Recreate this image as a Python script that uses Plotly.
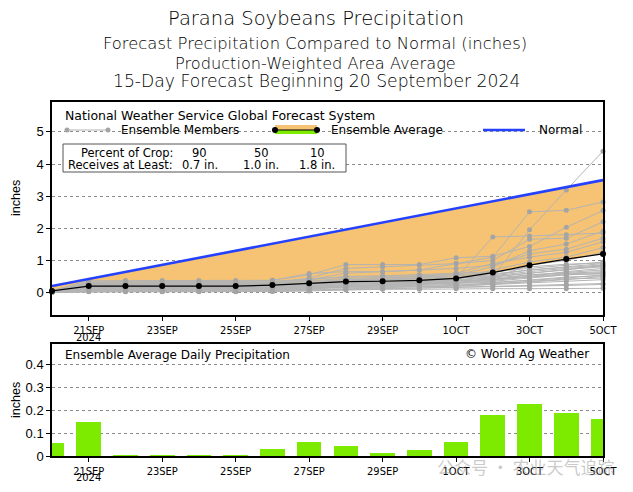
import plotly.graph_objects as go

# ---------------- data ----------------
dates = ["2024-09-20", "2024-09-21", "2024-09-22", "2024-09-23", "2024-09-24",
         "2024-09-25", "2024-09-26", "2024-09-27", "2024-09-28", "2024-09-29",
         "2024-09-30", "2024-10-01", "2024-10-02", "2024-10-03", "2024-10-04",
         "2024-10-05"]
ens_avg = [0.05, 0.20, 0.20, 0.20, 0.20, 0.20, 0.23, 0.29, 0.34, 0.35, 0.38,
           0.44, 0.62, 0.85, 1.04, 1.20]
normal = [0.20, 0.42, 0.64, 0.86, 1.08, 1.30, 1.52, 1.74, 1.96, 2.18, 2.40,
          2.62, 2.84, 3.06, 3.28, 3.50]
daily = [0.055, 0.15, 0.003, 0.001, 0.001, 0.001, 0.032, 0.06, 0.044, 0.013,
         0.026, 0.06, 0.18, 0.227, 0.188, 0.163]
members = [
    [0.02, 0.10, 0.10, 0.10, 0.10, 0.10, 0.12, 0.20, 0.30, 0.30, 0.32, 0.45, 1.73, 1.76, 1.80, 1.85],
    [0.03, 0.20, 0.20, 0.20, 0.20, 0.20, 0.25, 0.40, 0.60, 0.65, 0.70, 0.90, 1.10, 2.51, 2.56, 2.82],
    [0.01, 0.05, 0.05, 0.05, 0.05, 0.05, 0.06, 0.10, 0.20, 0.25, 0.30, 0.35, 0.50, 1.95, 3.19, 4.40],
    [0.05, 0.30, 0.35, 0.35, 0.35, 0.35, 0.38, 0.55, 0.87, 0.87, 0.87, 1.08, 1.13, 1.43, 2.03, 2.55],
    [0.04, 0.25, 0.25, 0.25, 0.25, 0.25, 0.30, 0.45, 0.75, 0.80, 0.85, 0.90, 1.00, 1.66, 1.69, 2.20],
    [0.02, 0.15, 0.15, 0.15, 0.15, 0.15, 0.18, 0.25, 0.35, 0.40, 0.45, 0.55, 0.80, 1.30, 1.51, 1.91],
    [0.06, 0.37, 0.37, 0.37, 0.37, 0.37, 0.38, 0.59, 0.65, 0.65, 0.70, 0.75, 0.85, 1.20, 1.35, 1.69],
    [0.03, 0.20, 0.20, 0.20, 0.20, 0.20, 0.22, 0.30, 0.40, 0.45, 0.50, 0.60, 0.90, 1.10, 1.25, 1.58],
    [0.02, 0.12, 0.12, 0.12, 0.12, 0.12, 0.15, 0.20, 0.25, 0.30, 0.35, 0.40, 0.70, 0.95, 1.10, 1.40],
    [0.01, 0.08, 0.08, 0.08, 0.08, 0.08, 0.10, 0.15, 0.20, 0.22, 0.25, 0.30, 0.45, 0.85, 1.00, 1.25],
    [0.00, 0.02, 0.02, 0.02, 0.02, 0.02, 0.03, 0.05, 0.08, 0.10, 0.10, 0.12, 0.12, 0.12, 0.12, 0.13],
    [0.01, 0.05, 0.05, 0.05, 0.05, 0.05, 0.06, 0.08, 0.12, 0.15, 0.18, 0.20, 0.25, 0.30, 0.35, 0.40],
    [0.02, 0.10, 0.10, 0.10, 0.10, 0.10, 0.12, 0.18, 0.22, 0.25, 0.28, 0.30, 0.35, 0.45, 0.55, 0.60],
    [0.03, 0.18, 0.18, 0.18, 0.18, 0.18, 0.20, 0.25, 0.30, 0.32, 0.35, 0.38, 0.40, 0.50, 0.65, 0.75],
    [0.04, 0.25, 0.25, 0.25, 0.25, 0.25, 0.27, 0.30, 0.35, 0.38, 0.40, 0.45, 0.50, 0.60, 0.70, 0.85],
    [0.02, 0.15, 0.15, 0.15, 0.15, 0.15, 0.16, 0.20, 0.25, 0.28, 0.30, 0.32, 0.40, 0.55, 0.60, 0.65],
    [0.01, 0.06, 0.06, 0.06, 0.06, 0.06, 0.08, 0.12, 0.18, 0.20, 0.22, 0.25, 0.28, 0.33, 0.40, 0.50],
    [0.05, 0.28, 0.28, 0.28, 0.28, 0.28, 0.30, 0.35, 0.40, 0.42, 0.45, 0.48, 0.55, 0.70, 0.80, 0.90],
    [0.00, 0.03, 0.03, 0.03, 0.03, 0.03, 0.04, 0.06, 0.10, 0.12, 0.14, 0.16, 0.20, 0.22, 0.25, 0.28],
    [0.03, 0.22, 0.22, 0.22, 0.22, 0.22, 0.24, 0.28, 0.32, 0.35, 0.38, 0.40, 0.45, 0.55, 0.62, 0.70],
    [0.02, 0.12, 0.12, 0.12, 0.12, 0.12, 0.14, 0.16, 0.20, 0.22, 0.25, 0.28, 0.32, 0.38, 0.45, 0.55],
    [0.01, 0.08, 0.08, 0.08, 0.08, 0.08, 0.10, 0.14, 0.16, 0.18, 0.20, 0.22, 0.30, 0.40, 0.48, 0.52],
    [0.04, 0.30, 0.30, 0.30, 0.30, 0.30, 0.32, 0.40, 0.50, 0.52, 0.55, 0.60, 0.65, 0.75, 0.85, 0.95],
    [0.02, 0.16, 0.16, 0.16, 0.16, 0.16, 0.18, 0.22, 0.28, 0.30, 0.32, 0.35, 0.42, 0.50, 0.58, 0.62],
    [0.00, 0.04, 0.04, 0.04, 0.04, 0.04, 0.05, 0.08, 0.10, 0.12, 0.12, 0.14, 0.18, 0.20, 0.22, 0.25],
    [0.03, 0.20, 0.20, 0.20, 0.20, 0.20, 0.22, 0.26, 0.30, 0.33, 0.36, 0.40, 0.48, 0.60, 0.72, 0.80],
    [0.05, 0.33, 0.33, 0.33, 0.33, 0.33, 0.35, 0.42, 0.48, 0.50, 0.52, 0.55, 0.62, 0.80, 0.88, 0.92],
    [0.01, 0.07, 0.07, 0.07, 0.07, 0.07, 0.09, 0.12, 0.15, 0.17, 0.19, 0.20, 0.26, 0.35, 0.42, 0.45],
    [0.02, 0.14, 0.14, 0.14, 0.14, 0.14, 0.15, 0.18, 0.22, 0.24, 0.26, 0.30, 0.38, 0.48, 0.55, 0.58],
    [0.03, 0.24, 0.24, 0.24, 0.24, 0.24, 0.26, 0.30, 0.36, 0.40, 0.42, 0.45, 0.52, 0.65, 0.75, 0.82],
    [0.04, 0.27, 0.27, 0.27, 0.27, 0.27, 0.28, 0.36, 0.44, 0.46, 0.48, 0.52, 0.58, 0.70, 0.78, 0.86],
]
tick_dates = dates[1::2]
tick_text = ["21SEP", "23SEP", "25SEP", "27SEP", "29SEP", "1OCT", "3OCT", "5OCT"]
year_label = "2024"
top_ticks = [0, 1, 2, 3, 4, 5]
bot_ticks = [0, 0.1, 0.2, 0.3, 0.4]
bot_tick_text = ["0", "0.1", "0.2", "0.3", "0.4"]

# ---------------- layout helpers ----------------
# page body has an 8px margin; figure sized to fit the 633x492 window
OFF = 8
W, H = 633 - OFF, 492 - OFF
def px(x):
    return (x - OFF) / W
def py(y):
    return 1 - (y - OFF) / H

GRADS = "DejaVu Sans"
TICKF = "Liberation Sans Narrow, DejaVu Sans Condensed, Liberation Sans"
AX = "Liberation Sans, Arial"
ORANGE = "#F5C373"
GREEN = "#7DEB00"
BLUE = "#2341FF"
MGRAY = "#b4b4b4"
DGRAY = "#a4a4a4"

fig = go.Figure()

# fill between ensemble average and normal
fig.add_trace(go.Scatter(x=dates, y=ens_avg, mode="lines", line=dict(width=0),
                         showlegend=False, hoverinfo="skip", xaxis="x", yaxis="y"))
fig.add_trace(go.Scatter(x=dates, y=normal, mode="lines", line=dict(width=0),
                         fill="tonexty", fillcolor=ORANGE, showlegend=False,
                         hoverinfo="skip", xaxis="x", yaxis="y"))
# ensemble members
for m in members:
    fig.add_trace(go.Scatter(x=dates, y=m, mode="lines+markers",
                             line=dict(color=MGRAY, width=1),
                             marker=dict(color=DGRAY, size=5),
                             showlegend=False, cliponaxis=False,
                             xaxis="x", yaxis="y"))
# ensemble average
fig.add_trace(go.Scatter(x=dates, y=ens_avg, mode="lines+markers",
                         line=dict(color="black", width=1.2),
                         marker=dict(color="black", size=6),
                         showlegend=False, cliponaxis=False, xaxis="x", yaxis="y"))
# normal
fig.add_trace(go.Scatter(x=dates, y=normal, mode="lines",
                         line=dict(color=BLUE, width=2.6),
                         showlegend=False, xaxis="x", yaxis="y"))
# daily bars
fig.add_trace(go.Bar(x=dates, y=daily, marker=dict(color=GREEN, line=dict(width=0)),
                     width=0.67 * 86400000, showlegend=False,
                     xaxis="x2", yaxis="y2"))

xdom = [px(52), px(603)]
common_x = dict(type="date", range=[dates[0], dates[-1]], tickvals=tick_dates,
                ticktext=tick_text, ticks="outside", ticklen=4, tickcolor="black",
                showline=True, mirror=True, linecolor="black", linewidth=1.5,
                showgrid=False, zeroline=False, domain=xdom,
                tickfont=dict(family=TICKF, size=11, color="black"),
                automargin=False)
fig.update_layout(
    width=W, height=H,
    margin=dict(l=0, r=0, t=0, b=0),
    paper_bgcolor="white", plot_bgcolor="white",
    xaxis=dict(anchor="y", **common_x),
    xaxis2=dict(anchor="y2", **common_x),
    yaxis=dict(domain=[py(315), py(102)], range=[-0.7, 5.93], tickvals=top_ticks,
               ticks="outside", ticklen=4, tickcolor="black",
               showline=True, mirror=True, linecolor="black", linewidth=1.5,
               showgrid=True, gridcolor="#8c8c8c", gridwidth=1, griddash="dot",
               zeroline=False, tickfont=dict(family=AX, size=13, color="black"),
               automargin=False),
    yaxis2=dict(domain=[py(456), py(344)], range=[0, 0.49], tickvals=bot_ticks,
                ticktext=bot_tick_text,
                ticks="outside", ticklen=4, tickcolor="black",
                showline=True, mirror=True, linecolor="black", linewidth=1.5,
                showgrid=True, gridcolor="#8c8c8c", gridwidth=1, griddash="dot",
                zeroline=False, tickfont=dict(family=AX, size=13, color="black"),
                automargin=False),
    bargap=0,
)

shapes = []
# cover top gridline area (legend zone) - between grid and traces
shapes.append(dict(type="rect", xref="paper", yref="paper", layer="between",
                   x0=px(53), x1=px(602), y0=py(140), y1=py(103),
                   fillcolor="white", line=dict(width=0)))
# percent box
shapes.append(dict(type="rect", xref="paper", yref="paper", layer="above",
                   x0=px(63), x1=px(346), y0=py(172), y1=py(144),
                   fillcolor="white", line=dict(color="#555555", width=1)))
# legend: ensemble members
shapes.append(dict(type="line", xref="paper", yref="paper", x0=px(67), x1=px(108),
                   y0=py(130), y1=py(130), line=dict(color=MGRAY, width=1)))
for xx in (67, 108):
    shapes.append(dict(type="circle", xref="paper", yref="paper",
                       x0=px(xx - 2.5), x1=px(xx + 2.5), y0=py(132.5), y1=py(127.5),
                       fillcolor=DGRAY, line=dict(width=0)))
# legend: ensemble average
shapes.append(dict(type="rect", xref="paper", yref="paper", x0=px(275), x1=px(317),
                   y0=py(130), y1=py(125), fillcolor=ORANGE, line=dict(width=0)))
shapes.append(dict(type="rect", xref="paper", yref="paper", x0=px(275), x1=px(317),
                   y0=py(134), y1=py(130), fillcolor=GREEN, line=dict(width=0)))
shapes.append(dict(type="line", xref="paper", yref="paper", x0=px(275), x1=px(317),
                   y0=py(130), y1=py(130), line=dict(color="black", width=1.2)))
for xx in (275, 317):
    shapes.append(dict(type="circle", xref="paper", yref="paper",
                       x0=px(xx - 3), x1=px(xx + 3), y0=py(133), y1=py(127),
                       fillcolor="black", line=dict(width=0)))
# legend: normal
shapes.append(dict(type="line", xref="paper", yref="paper", x0=px(483), x1=px(525),
                   y0=py(130), y1=py(130), line=dict(color=BLUE, width=2.6)))
fig.update_layout(shapes=shapes)

ann = []
def text(t, x, y, size, xanchor="left", family=GRADS, color="black", angle=0,
         weight=400):
    ann.append(dict(text=t, x=px(x), y=py(y), xref="paper", yref="paper",
                    xanchor=xanchor, yanchor="middle", showarrow=False,
                    textangle=angle,
                    font=dict(family=family, size=size, color=color, weight=weight)))

# titles
text("Parana Soybeans Precipitation", 316, 18, 19.5, "center", weight=300)
text("Forecast Precipitation Compared to Normal (inches)", 315, 43, 16.4, "center", weight=300)
text("Production-Weighted Area Average", 315, 63, 16.2, "center", weight=300)
text("15-Day Forecast Beginning 20 September 2024", 316, 81, 17.2, "center", weight=300)
# legend text
text("National Weather Service Global Forecast System", 63, 115, 12.5)
text("Ensemble Members", 119, 130, 12)
text("Ensemble Average", 329, 130, 12)
text("Normal", 537, 130, 12)
# percent box
text("Percent of Crop:", 175, 153, 11.5, "right")
text("Receives at Least:", 175, 165, 11.5, "right")
for xc, a, b in ((200, "90", "0.7 in."), (261, "50", "1.0 in."), (317, "10", "1.8 in.")):
    text(a, xc, 153, 11.5, "center")
    text(b, xc, 165, 11.5, "center")
# year under first tick on both panels
text(year_label, 88, 337, 11, "center", TICKF)
text(year_label, 88, 477, 11, "center", TICKF)
# bottom panel texts
text("Ensemble Average Daily Precipitation", 63, 355, 12)
text("© World Ag Weather", 591, 354, 12, "right")
# axis titles
text("inches", 16, 198, 12.5, "center", AX, angle=-90)
text("inches", 16, 400, 12.5, "center", AX, angle=-90)
# watermark
text("公众号 · 农业天气追踪", 435, 466, 17, "left", "Noto Sans CJK SC",
     "rgba(150,150,150,0.5)")
fig.update_layout(annotations=ann)

fig.write_html("out.html")
